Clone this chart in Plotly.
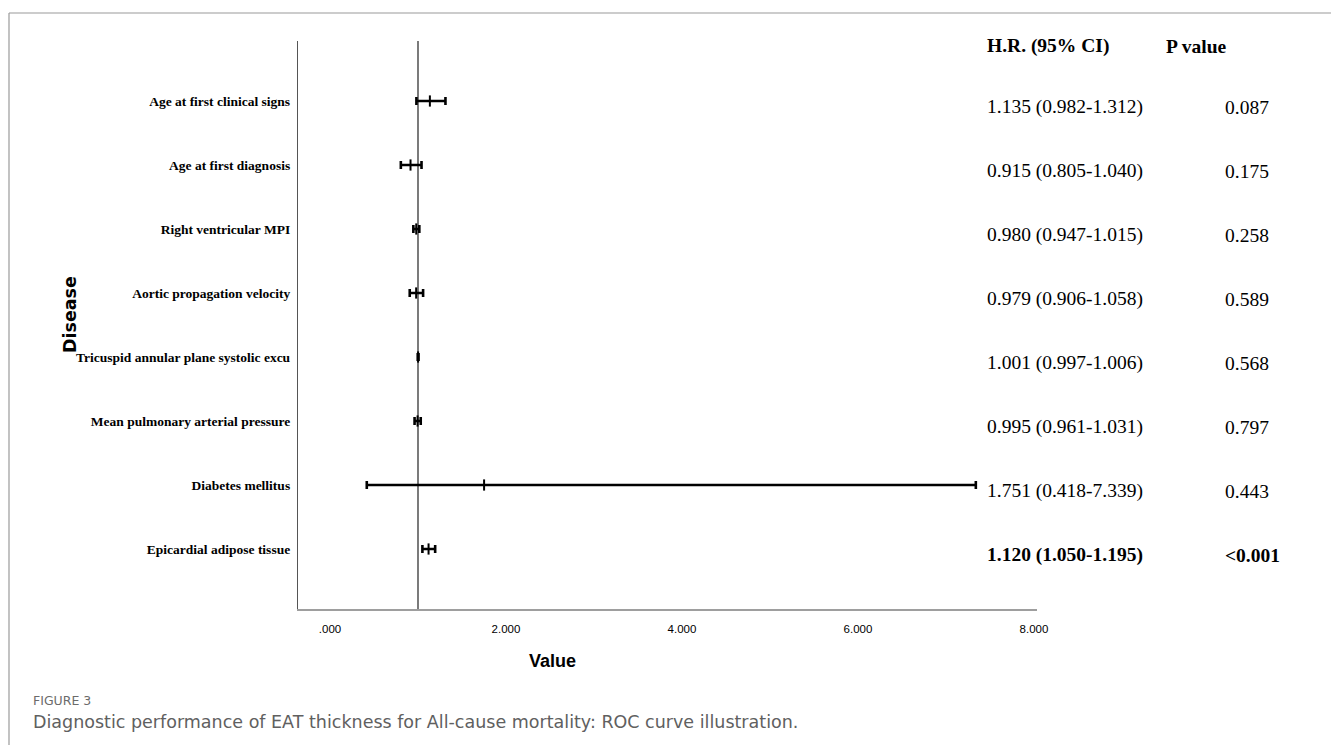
import plotly.graph_objects as go

# ---------------- data ----------------
variables = [
    "Age at first clinical signs",
    "Age at first diagnosis",
    "Right ventricular MPI",
    "Aortic propagation velocity",
    "Tricuspid annular plane systolic excu",
    "Mean pulmonary arterial pressure",
    "Diabetes mellitus",
    "Epicardial adipose tissue",
]
hr = [1.135, 0.915, 0.980, 0.979, 1.001, 0.995, 1.751, 1.120]
ci_low = [0.982, 0.805, 0.947, 0.906, 0.997, 0.961, 0.418, 1.050]
ci_high = [1.312, 1.040, 1.015, 1.058, 1.006, 1.031, 7.339, 1.195]
hr_text = ["1.135 (0.982-1.312)", "0.915 (0.805-1.040)", "0.980 (0.947-1.015)",
           "0.979 (0.906-1.058)", "1.001 (0.997-1.006)", "0.995 (0.961-1.031)",
           "1.751 (0.418-7.339)", "1.120 (1.050-1.195)"]
p_text = ["0.087", "0.175", "0.258", "0.589", "0.568", "0.797", "0.443", "&lt;0.001"]
bold_rows = [False] * 7 + [True]
x_tickvals = [0, 2, 4, 6, 8]
x_ticktext = [".000", "2.000", "4.000", "6.000", "8.000"]
ref_value = 1

# ---------------- layout geometry ----------------
W, H = 1331, 745
L, R, T, B = 298, 1037, 41, 609   # plot area in pixels


def px(x):
    return (x - L) / (R - L)


def py(y):
    return (B - y) / (B - T)


rows = list(range(len(variables)))
err_plus = [h - v for h, v in zip(ci_high, hr)]
err_minus = [v - l for v, l in zip(hr, ci_low)]

fig = go.Figure()
fig.add_trace(go.Scatter(
    x=hr, y=rows, mode="markers",
    marker=dict(symbol="line-ns-open", size=8, color="black",
                line=dict(width=2, color="black")),
    error_x=dict(type="data", symmetric=False, array=err_plus,
                 arrayminus=err_minus, thickness=2.6, width=4, color="black"),
    showlegend=False, hoverinfo="skip",
))

# reference line
fig.add_shape(type="line", xref="x", yref="paper", x0=ref_value, x1=ref_value,
              y0=0, y1=1, line=dict(color="#333333", width=1.3), layer="below")

TABLE_FONT = dict(family="Liberation Serif", size=19.5, color="black")
ann = []
# table headers
ann.append(dict(text="<b>H.R. (95% CI)</b>", x=px(985), y=py(46), xref="paper", yref="paper",
                xanchor="left", yanchor="middle", showarrow=False, font=TABLE_FONT))
ann.append(dict(text="<b>P value</b>", x=px(1164), y=py(46), xref="paper", yref="paper",
                xanchor="left", yanchor="middle", showarrow=False, font=TABLE_FONT))
for i in rows:
    t1 = hr_text[i]
    t2 = p_text[i]
    if bold_rows[i]:
        t1 = "<b>" + t1 + "</b>"
        t2 = "<b>" + t2 + "</b>"
    ann.append(dict(text=t1, x=px(985), y=i + 0.1, xref="paper", yref="y",
                    xanchor="left", yanchor="middle", showarrow=False, font=TABLE_FONT))
    ann.append(dict(text=t2, x=px(1223), y=i + 0.1, xref="paper", yref="y",
                    xanchor="left", yanchor="middle", showarrow=False, font=TABLE_FONT))

# y-axis title
ann.append(dict(text="<b>Disease</b>", x=px(70), y=py(315), xref="paper", yref="paper",
                textangle=-90, xanchor="center", yanchor="middle", showarrow=False,
                font=dict(family="DejaVu Sans", size=17.5, color="black")))
# x-axis title
ann.append(dict(text="<b>Value</b>", x=px(552), y=py(661), xref="paper", yref="paper",
                xanchor="center", yanchor="middle", showarrow=False,
                font=dict(family="Liberation Sans", size=18, color="black")))
# caption
ann.append(dict(text="FIGURE 3", x=px(31), y=py(700), xref="paper", yref="paper",
                xanchor="left", yanchor="middle", showarrow=False,
                font=dict(family="DejaVu Sans", size=12.5, color="#6b6b6b")))
ann.append(dict(text="Diagnostic performance of EAT thickness for All-cause mortality: ROC curve illustration.",
                x=px(31), y=py(722), xref="paper", yref="paper",
                xanchor="left", yanchor="middle", showarrow=False,
                font=dict(family="DejaVu Sans", size=17.5, color="#606060")))

# frame lines (top and left)
shapes = [
    dict(type="line", xref="paper", yref="paper", x0=px(9), x1=px(W), y0=py(13), y1=py(13),
         line=dict(color="#9a9a9a", width=1.2)),
    dict(type="line", xref="paper", yref="paper", x0=px(9), x1=px(9), y0=py(13), y1=py(H),
         line=dict(color="#9a9a9a", width=1.2)),
]
for s in shapes:
    fig.add_shape(**s)

# y range so rows land at 101 + 64*i px
row0, step = 101, 64
y_top = (T - row0) / step
y_bot = (B - row0) / step
# x range: 0 at ~330 px, 88 px per unit
x0px, unit = 330, 88
x_lo = (L - x0px) / unit
x_hi = (R - x0px) / unit

fig.update_layout(
    width=W, height=H,
    margin=dict(l=L, r=W - R, t=T, b=H - B),
    paper_bgcolor="white", plot_bgcolor="white",
    annotations=ann,
    xaxis=dict(range=[x_lo, x_hi], tickvals=x_tickvals, ticktext=x_ticktext,
               showgrid=False, zeroline=False, showline=True, linecolor="#9e9e9e",
               linewidth=2, ticks="", ticklabelstandoff=8,
               tickfont=dict(family="Liberation Sans", size=11.5, color="black")),
    yaxis=dict(range=[y_bot, y_top], tickvals=rows, ticktext=variables,
               showgrid=False, zeroline=False, showline=True, linecolor="#555555",
               linewidth=1.3, ticks="", ticklabelstandoff=4,
               tickfont=dict(family="Liberation Serif", size=13.5, color="black", weight="bold")),
)

fig.write_html("out.html")
